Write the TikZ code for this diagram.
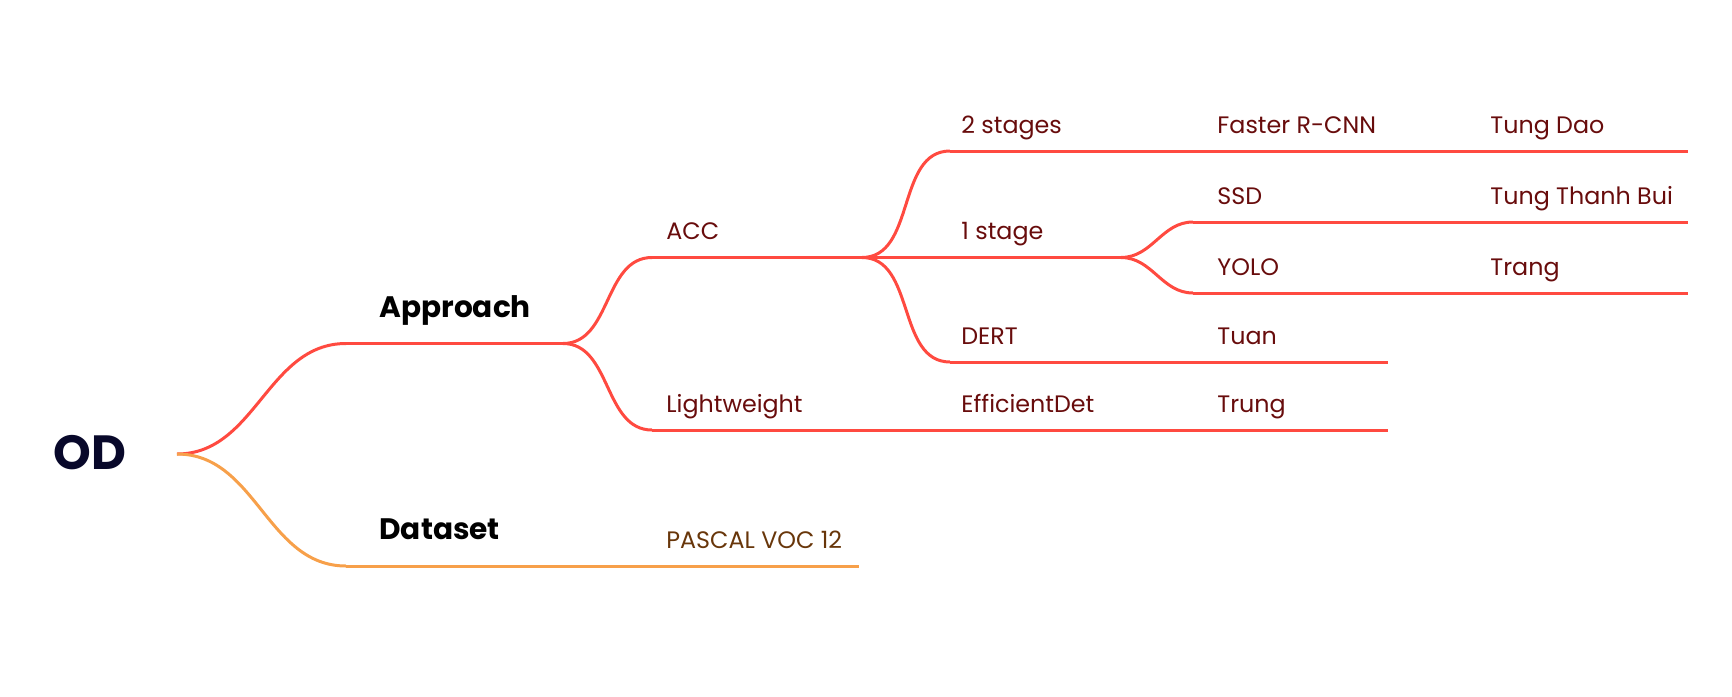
\documentclass[tikz,border=0pt]{standalone}
\usepackage{fontspec}
\setmainfont{Poppins}
\usepackage{tikz}
\definecolor{R}{RGB}{255,74,64}
\definecolor{O}{RGB}{247,160,74}
\definecolor{T}{RGB}{104,12,12}
\definecolor{P}{RGB}{104,54,10}
\definecolor{N}{RGB}{8,8,42}
\tikzset{
  leaf/.style={anchor=base west, inner sep=0pt, text=T, font=\fontsize{11.9}{14}\selectfont},
  main/.style={anchor=base west, inner sep=0pt, text=black, font=\fontsize{14.8}{18}\selectfont\bfseries},
  edge/.style={line width=1.5pt, draw=R},
}
% curve from the end of one branch to the start of the next
\newcommand{\branch}[3][R]{\draw[edge,draw=#1] (#2) to[out=0,in=180] (#3);}
\newcommand{\stem}[3][R]{\draw[edge,draw=#1] (#2) -- (#3);}

\begin{document}
\begin{tikzpicture}[x=0.5pt,y=-0.5pt]
\useasboundingbox (0,0) rectangle (1732,696);
% points where the branches start and end
\coordinate (od-e) at (177,454);
\coordinate (app-s) at (346,343.5); \coordinate (app-e) at (563,343.5);
\coordinate (data-s) at (346,566); \coordinate (data-e) at (859,566);
\coordinate (acc-s) at (652,257.5); \coordinate (acc-e) at (862,257.5);
\coordinate (light-s) at (652,430); \coordinate (light-e) at (1388,430);
\coordinate (two-s) at (950,151); \coordinate (two-e) at (1688,151);
\coordinate (one-e) at (1121,257.5);
\coordinate (dert-s) at (950,362); \coordinate (dert-e) at (1388,362);
\coordinate (ssd-s) at (1193,222); \coordinate (ssd-e) at (1688,222);
\coordinate (yolo-s) at (1193,293); \coordinate (yolo-e) at (1688,293);

\branch{od-e}{app-s}\stem{app-s}{app-e}
\branch[O]{od-e}{data-s}\stem[O]{data-s}{data-e}
\branch{app-e}{acc-s}\stem{acc-s}{acc-e}
\branch{app-e}{light-s}\stem{light-s}{light-e}
\branch{acc-e}{two-s}\stem{two-s}{two-e}
\stem{acc-e}{one-e}
\branch{acc-e}{dert-s}\stem{dert-s}{dert-e}
\branch{one-e}{ssd-s}\stem{ssd-s}{ssd-e}
\branch{one-e}{yolo-s}\stem{yolo-s}{yolo-e}

\node[anchor=base west, inner sep=0pt, text=N, font=\fontsize{24}{28}\selectfont\bfseries] (od) at (53,469) {OD};
\node[main] (approach) at (379,317) {Approach};
\node[main] (dataset) at (379,539) {Dataset};
\node[leaf, text=P] (pascal) at (666,548) {PASCAL VOC 12};
\node[leaf] (acc) at (666,239) {ACC};
\node[leaf] (light) at (666,412) {Lightweight};
\node[leaf] (effdet) at (961,412) {EfficientDet};
\node[leaf] (trung) at (1217,412) {Trung};
\node[leaf] (two) at (961,133) {2 stages};
\node[leaf] (faster) at (1217,133) {Faster R-CNN};
\node[leaf] (tungdao) at (1490,133) {Tung Dao};
\node[leaf] (one) at (961,239) {1 stage};
\node[leaf] (dert) at (961,344) {DERT};
\node[leaf] (tuan) at (1217,344) {Tuan};
\node[leaf] (ssd) at (1217,204) {SSD};
\node[leaf] (bui) at (1490,204) {Tung Thanh Bui};
\node[leaf] (yolo) at (1217,275) {YOLO};
\node[leaf] (trang) at (1490,275) {Trang};
\end{tikzpicture}
\end{document}
